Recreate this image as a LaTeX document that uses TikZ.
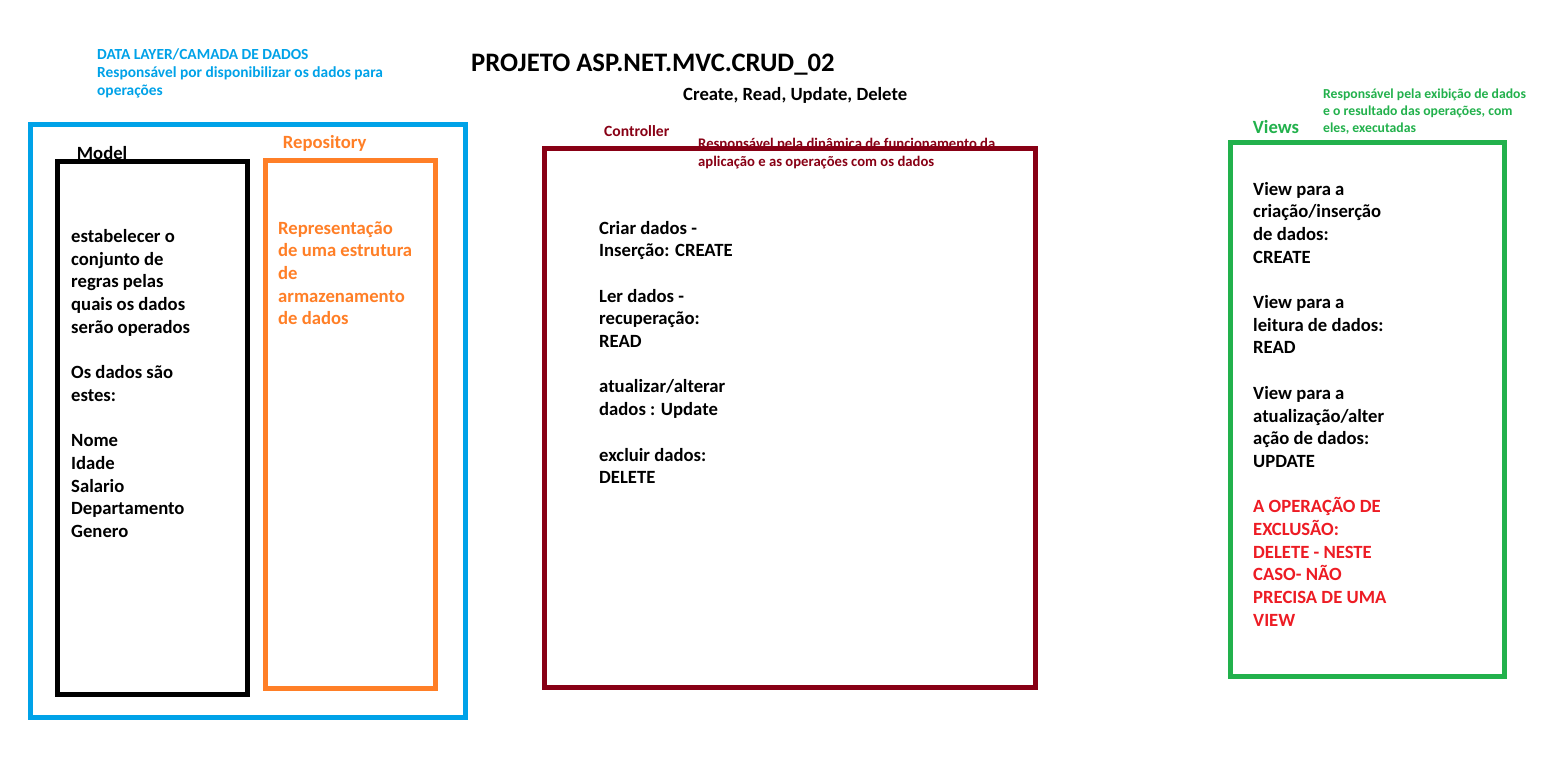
\documentclass[tikz,border=0pt]{standalone}
\usepackage{fontspec}
\setmainfont{Carlito}
\definecolor{lblue}{HTML}{00A2E8}
\definecolor{lorange}{HTML}{FF7F27}
\definecolor{dred}{HTML}{880015}
\definecolor{lgreen}{HTML}{22B14C}
\definecolor{bred}{HTML}{ED1C24}
\newcommand{\blk}[1]{\begin{tabular}[t]{@{}l@{}}#1\end{tabular}}
\begin{document}
\begin{tikzpicture}[x=1pt,y=-1pt,
  big/.style={anchor=base west,inner sep=0pt,font=\bfseries\fontsize{18.67}{22.7}\selectfont},
  ttl/.style={anchor=base west,inner sep=0pt,font=\bfseries\fontsize{26.67}{31}\selectfont},
  small/.style={anchor=base west,inner sep=0pt,font=\bfseries\fontsize{14.67}{18.2}\selectfont},
  dlsmall/.style={anchor=base west,inner sep=0pt,font=\bfseries\fontsize{15.4}{17.9}\selectfont},
  tiny/.style={anchor=base west,inner sep=0pt,font=\bfseries\fontsize{13.7}{17.2}\selectfont},
  box/.style={line width=5pt,line cap=rect,line join=miter}]
\useasboundingbox (0,0) rectangle (1547,768);
\fill[white] (0,0) rectangle (1547,768);
% texts under the boxes
\node[big] (modellbl) at (76.7,159.5) {Model};
\node[small,text=dred] (ctrlnote) at (698,148.3) {\blk{Responsável pela dinâmica de funcionamento da\\aplicação e as operações com os dados}};
% boxes
\draw[box,lblue] (30.5,124) rectangle (465.5,717.5);
\draw[box,black] (57,161) rectangle (247.5,694);
\draw[box,lorange] (265.5,160) rectangle (435.5,688.5);
\draw[box,dred] (544.5,148.5) rectangle (1035.5,687.5);
\draw[box,lgreen] (1230.5,142.5) rectangle (1504.5,676.5);
% headings
\node[ttl] (title) at (471,71.7) {PROJETO ASP.NET.MVC.CRUD\_02};
\node[big] (crud) at (683,100) {Create, Read, Update, Delete};
\node[dlsmall,text=lblue] (datalayer) at (97,59.3) {\blk{DATA LAYER/CAMADA DE DADOS\\Responsável por disponibilizar os dados para\\operações}};
\node[big,text=lorange] (repolbl) at (282.7,148) {Repository};
\node[small,text=dred,font=\bfseries\fontsize{15.6}{18.2}\selectfont] (ctrllbl) at (604,136.7) {Controller};
\node[big,text=lgreen] (viewslbl) at (1252.7,133.3) {Views};
\node[tiny,text=lgreen] (viewsnote) at (1323,98.3) {\blk{Responsável pela exibição de dados\\e o resultado das operações, com\\eles, executadas}};
% box contents
\node[big] (modeltxt) at (71,242.5) {\blk{estabelecer o\\conjunto de\\regras pelas\\quais os dados\\serão operados\\ \\Os dados são\\estes:\\ \\Nome\\Idade\\Salario\\Departamento\\Genero}};
\node[big,text=lorange] (repotxt) at (278,234) {\blk{Representação\\de uma estrutura\\de\\armazenamento\\de dados}};
\node[big] (ctrltxt) at (599,234) {\blk{Criar dados -\\Inserção: CREATE\\ \\Ler dados -\\recuperação:\\READ\\ \\atualizar/alterar\\dados : Update\\ \\excluir dados:\\DELETE}};
\node[big] (viewstxt) at (1253,195) {\blk{View para a\\criação/inserção\\de dados:\\CREATE\\ \\View para a\\leitura de dados:\\READ\\ \\View para a\\atualização/alter\\ação de dados:\\UPDATE}};
\node[big,text=bred] (viewsred) at (1253,512.8) {\blk{A OPERAÇÃO DE\\EXCLUSÃO:\\DELETE - NESTE\\CASO- NÃO\\PRECISA DE UMA\\VIEW}};
\end{tikzpicture}
\end{document}
